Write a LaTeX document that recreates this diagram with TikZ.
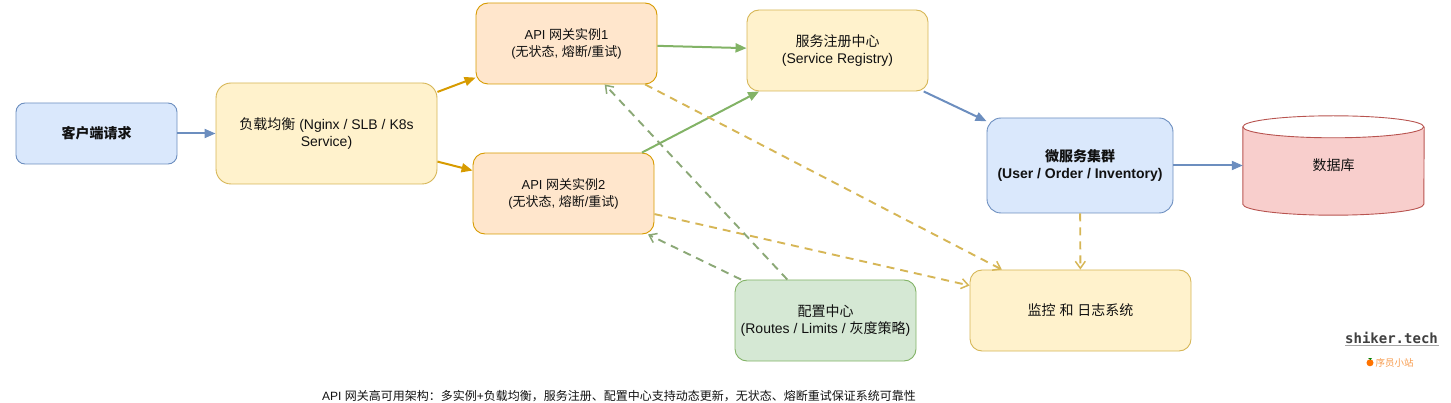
\documentclass[tikz,border=0pt]{standalone}
\usepackage{fontspec}
\setmainfont{Liberation Sans}
\newfontfamily\cjk{Noto Sans CJK SC}
\newfontfamily\wm{DejaVu Sans Mono}
\newcommand{\zh}[1]{{\cjk #1}}
\usetikzlibrary{arrows.meta,calc}
\definecolor{bluef}{HTML}{DAE8FC}\definecolor{blued}{HTML}{6C8EBF}
\definecolor{yelf}{HTML}{FFF2CC}\definecolor{yeld}{HTML}{D6B656}
\definecolor{orf}{HTML}{FFE6CC}\definecolor{ord}{HTML}{D79B00}
\definecolor{grf}{HTML}{D5E8D4}\definecolor{grd}{HTML}{82B366}
\definecolor{grdash}{HTML}{8BA876}
\definecolor{redf}{HTML}{F8CECC}\definecolor{redd}{HTML}{B85450}
\definecolor{ink}{HTML}{111111}
\definecolor{sitec}{HTML}{F79A4B}
\tikzset{
  boxb/.style={draw,rounded corners=12pt,line width=0.9pt,align=center,inner sep=0pt,font=\fontsize{14}{17}\selectfont,text=ink},
  gw/.style={boxb,fill=orf,draw=ord,minimum width=181pt,minimum height=81pt,font=\fontsize{13}{17}\selectfont},
  yel/.style={boxb,fill=yelf,draw=yeld},
  blu/.style={boxb,fill=bluef,draw=blued},
  solidarrow/.style={line width=2pt,-{Triangle[length=11pt,width=9pt]},shorten >=0pt},
  dasharrow/.style={line width=1.9pt,dash pattern=on 8pt off 6pt,-{Straight Barb[length=7pt,width=10pt,line width=1.5pt]}},
  notetext/.style={font=\fontsize{12}{14}\selectfont,text=ink,inner sep=0pt}
}
\begin{document}
\begin{tikzpicture}[x=1pt,y=-1pt]
\useasboundingbox (0,0) rectangle (1451,403);
\node[blu,minimum width=161pt,minimum height=61pt,rounded corners=9pt,font=\fontsize{14}{17}\selectfont\bfseries] (client) at (96.5,133.5) {\zh{\textbf{客户端请求}}};
\node[yel,minimum width=221pt,minimum height=101pt,rounded corners=15pt] (lb) at (326.5,133.5) {\zh{负载均衡} (Nginx / SLB / K8s\\Service)};
\node[gw] (gwa) at (566.5,43.5) {API \zh{网关实例}1\\(\zh{无状态}, \zh{熔断}/\zh{重试})};
\node[gw] (gwb) at (563.5,193.5) {API \zh{网关实例}2\\(\zh{无状态}, \zh{熔断}/\zh{重试})};
\node[yel,minimum width=181pt,minimum height=81pt] (reg) at (837.5,50.5) {\zh{服务注册中心}\\(Service Registry)};
\node[blu,minimum width=186pt,minimum height=95pt,rounded corners=14pt,font=\fontsize{14}{17}\selectfont\bfseries] (ms) at (1080,165.5) {\zh{微服务集群}\\(User / Order / Inventory)};
\node[minimum width=181pt,minimum height=99pt,inner sep=0pt] (db) at (1333.5,165.5) {};
\fill[redf] ($(db.north west)+(0,11)$) arc[x radius=90.5,y radius=11,start angle=180,end angle=0] -- ($(db.south east)+(0,-11)$) arc[x radius=90.5,y radius=11,start angle=0,end angle=180] -- cycle;
\draw[redd,line width=0.9pt] ($(db.north west)+(0,11)$) arc[x radius=90.5,y radius=11,start angle=180,end angle=-180];
\draw[redd,line width=0.9pt] ($(db.north west)+(0,11)$) -- ($(db.south west)+(0,-11)$) arc[x radius=90.5,y radius=11,start angle=180,end angle=0] -- ($(db.north east)+(0,11)$);
\node[font=\fontsize{14}{17}\selectfont,text=ink,inner sep=0pt] (dbt) at (1333.5,165.5) {\zh{数据库}};
\node[boxb,fill=grf,draw=grd,minimum width=181pt,minimum height=81pt] (cfg) at (825.5,320.5) {\zh{配置中心}\\(Routes / Limits / \zh{灰度策略})};
\node[yel,minimum width=221pt,minimum height=81pt] (mon) at (1080.5,310.5) {\zh{监控} \zh{和} \zh{日志系统}};

\draw[solidarrow,blued] (client) -- (lb);
\draw[solidarrow,ord] (lb) -- (gwa);
\draw[solidarrow,ord] (lb) -- (gwb);
\draw[solidarrow,grd] (gwa) -- (reg);
\draw[solidarrow,grd] (gwb) -- (reg);
\draw[solidarrow,blued] (reg) -- (ms);
\draw[solidarrow,blued] (ms) -- (db);
\draw[dasharrow,yeld] (gwa) -- (mon);
\draw[dasharrow,yeld] (gwb) -- (mon);
\draw[dasharrow,yeld] (ms) -- (mon);
\draw[dasharrow,grdash] (cfg) -- (gwa);
\draw[dasharrow,grdash] (cfg) -- (gwb);

\node[notetext] (note) at (619,396) {API \zh{网关高可用架构：多实例}+\zh{负载均衡，服务注册、配置中心支持动态更新，无状态、熔断重试保证系统可靠性}};
\node[font=\wm\bfseries\fontsize{14}{16}\selectfont,text=black!75,inner sep=0pt] (site) at (1391.5,338) {shiker.tech};
\fill[black!35] (1345,345) rectangle (1439,346.2);
\node[font=\fontsize{9.5}{11}\selectfont,text=sitec,inner sep=0pt] (sub) at (1394.5,362.5) {\zh{序员小站}};
\fill[orange!90!red] (1370,362.8) circle[radius=3.5];
\fill[green!50!black] (1368,358) -- (1372,358) -- (1370.5,360) -- cycle;
\end{tikzpicture}
\end{document}
